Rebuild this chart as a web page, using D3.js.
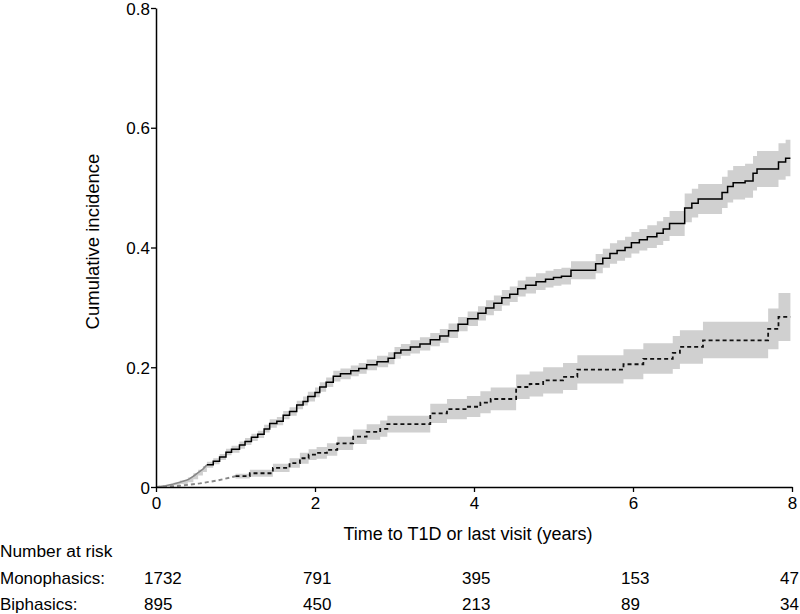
<!DOCTYPE html>
<html><head><meta charset="utf-8">
<script src="https://cdn.jsdelivr.net/npm/d3@7"></script>
<style>
html,body{margin:0;padding:0;background:#fff;}
svg text{font-family:"Liberation Sans",Arial,sans-serif;fill:#000;}
</style></head>
<body><svg id="c" width="800" height="614"></svg>
<script>
// Monophasics (solid)
const monoT  = [0.00,0.12,0.22,0.30,0.40,0.47,0.53,0.59,0.64,0.72,0.80,0.88,0.95,1.05,1.12,1.20,1.28,1.36,1.43,1.52,1.60,1.68,1.77,1.85,1.91,2.00,2.06,2.14,2.23,2.32,2.45,2.55,2.65,2.78,2.92,3.00,3.08,3.20,3.32,3.45,3.57,3.68,3.80,3.92,4.05,4.15,4.25,4.35,4.45,4.55,4.65,4.78,4.90,5.00,5.10,5.22,5.53,5.62,5.71,5.80,5.90,5.98,6.08,6.18,6.30,6.38,6.46,6.65,6.74,6.82,7.12,7.19,7.26,7.41,7.51,7.56,7.83,7.92,7.98];
const monoV  = [0.000,0.002,0.005,0.008,0.012,0.018,0.024,0.030,0.037,0.043,0.050,0.058,0.063,0.070,0.076,0.083,0.088,0.097,0.106,0.110,0.120,0.126,0.137,0.143,0.151,0.158,0.167,0.175,0.185,0.189,0.194,0.198,0.204,0.209,0.215,0.224,0.229,0.234,0.239,0.246,0.252,0.261,0.272,0.281,0.290,0.299,0.307,0.316,0.322,0.331,0.337,0.343,0.347,0.350,0.352,0.362,0.373,0.382,0.390,0.395,0.400,0.408,0.413,0.418,0.424,0.431,0.440,0.466,0.474,0.481,0.492,0.502,0.508,0.511,0.524,0.531,0.543,0.549,0.549];
const monoLo = [0.000,0.001,0.003,0.005,0.008,0.013,0.019,0.025,0.032,0.038,0.045,0.053,0.057,0.064,0.070,0.077,0.082,0.091,0.099,0.103,0.113,0.119,0.130,0.136,0.143,0.150,0.159,0.167,0.176,0.180,0.185,0.189,0.195,0.200,0.205,0.214,0.219,0.223,0.228,0.235,0.241,0.249,0.260,0.269,0.278,0.287,0.294,0.303,0.309,0.318,0.323,0.329,0.333,0.336,0.338,0.347,0.357,0.366,0.373,0.378,0.383,0.390,0.395,0.399,0.404,0.411,0.419,0.442,0.450,0.456,0.466,0.475,0.480,0.483,0.495,0.501,0.513,0.519,0.519];
const monoHi = [0.000,0.003,0.007,0.011,0.016,0.023,0.029,0.035,0.042,0.048,0.055,0.064,0.069,0.076,0.082,0.089,0.094,0.104,0.113,0.117,0.127,0.133,0.144,0.151,0.159,0.166,0.175,0.183,0.194,0.198,0.203,0.207,0.213,0.219,0.225,0.234,0.239,0.245,0.250,0.257,0.264,0.273,0.284,0.293,0.302,0.312,0.320,0.329,0.335,0.345,0.351,0.357,0.361,0.364,0.366,0.377,0.389,0.398,0.407,0.412,0.418,0.426,0.431,0.437,0.444,0.451,0.461,0.490,0.498,0.506,0.518,0.529,0.536,0.540,0.553,0.561,0.574,0.580,0.580];
const monoGrayUntil = 0.64;

// Biphasics (dashed)
const biT  = [0.00,0.30,0.55,0.78,1.00,1.18,1.47,1.68,1.81,1.92,2.02,2.15,2.28,2.48,2.65,2.82,2.91,3.45,3.66,3.91,4.08,4.21,4.53,4.70,4.87,5.12,5.30,5.88,6.13,6.50,6.59,6.88,7.70,7.83,7.98];
const biV  = [0.000,0.002,0.006,0.011,0.018,0.023,0.032,0.040,0.048,0.054,0.057,0.062,0.073,0.084,0.092,0.097,0.105,0.123,0.130,0.134,0.141,0.147,0.167,0.172,0.178,0.184,0.196,0.205,0.214,0.224,0.234,0.245,0.264,0.284,0.284];
const biLo = [null,null,null,null,0.014,0.017,0.025,0.032,0.039,0.045,0.047,0.052,0.062,0.072,0.079,0.084,0.091,0.107,0.113,0.117,0.123,0.128,0.147,0.151,0.156,0.162,0.173,0.180,0.189,0.197,0.206,0.215,0.230,0.244,0.244];
const biHi = [null,null,null,null,0.022,0.029,0.039,0.048,0.057,0.063,0.067,0.073,0.084,0.096,0.105,0.111,0.119,0.139,0.147,0.152,0.160,0.166,0.188,0.193,0.200,0.207,0.220,0.230,0.240,0.252,0.262,0.276,0.298,0.324,0.324];
const biGrayUntil = 1.0;

const xTicks = [0,2,4,6,8];
const yTicks = [0,0.2,0.4,0.6,0.8];
const riskTimes = [0,2,4,6,8];
const riskRows = ["Monophasics:","Biphasics:"];
const riskMono = [1732,791,395,153,47];
const riskBi = [895,450,213,89,34];

const svg = d3.select("#c");
const x = d3.scaleLinear().domain([0,8]).range([156,792]);
const y = d3.scaleLinear().domain([0,0.8]).range([487,8]);
const FS = 17;

function build(T,V,L,H){return T.map((t,i)=>({t:t,v:V[i],lo:L[i],hi:H[i]}));}
const mono = build(monoT,monoV,monoLo,monoHi);
const bi = build(biT,biV,biLo,biHi);

const area = d3.area().defined(d=>d.lo!=null).curve(d3.curveStepAfter)
  .x(d=>x(d.t)).y0(d=>y(d.lo)).y1(d=>y(d.hi));
const line = d3.line().curve(d3.curveStepAfter).x(d=>x(d.t)).y(d=>y(d.v));
const lineLin = d3.line().x(d=>x(d.t)).y(d=>y(d.v));

svg.append("path").attr("d",area(mono)).attr("fill","#d0d0d0");
svg.append("path").attr("d",area(bi.filter(d=>d.lo!=null))).attr("fill","#d0d0d0");

// early gray segments
svg.append("path").attr("d",lineLin(mono.filter(d=>d.t<=monoGrayUntil)))
  .attr("fill","none").attr("stroke","#888").attr("stroke-width",1.6);
svg.append("path").attr("d",lineLin(bi.filter(d=>d.t<=biGrayUntil)))
  .attr("fill","none").attr("stroke","#888").attr("stroke-width",1.9).attr("stroke-dasharray","4,3");

svg.append("path").attr("d",line(mono.filter(d=>d.t>=monoGrayUntil)))
  .attr("fill","none").attr("stroke","#000").attr("stroke-width",1.5);
svg.append("path").attr("d",line(bi.filter(d=>d.t>=biGrayUntil)))
  .attr("fill","none").attr("stroke","#111").attr("stroke-width",1.8).attr("stroke-dasharray","4,3");

// axes
const xAxis = d3.axisBottom(x).tickValues(xTicks).tickSize(5).tickSizeOuter(0).tickFormat(d3.format("d"));
const yAxis = d3.axisLeft(y).tickValues(yTicks).tickSize(5).tickSizeOuter(0).tickFormat(d=>d===0?"0":d3.format(".1f")(d));
const gx = svg.append("g").attr("transform","translate(0,487)").call(xAxis);
const gy = svg.append("g").attr("transform","translate(156,0)").call(yAxis);
[gx,gy].forEach(g=>{
  g.select(".domain").attr("stroke","#000").attr("stroke-width",1.5);
  g.selectAll(".tick line").attr("stroke","#000").attr("stroke-width",1.3);
  g.selectAll(".tick text").attr("font-size",FS).attr("font-family","Liberation Sans, Arial, sans-serif").attr("fill","#000");
});
gx.selectAll(".tick text").attr("dy",null).attr("y",22);
gy.selectAll(".tick text").attr("x",-6).attr("dy","0.36em");

svg.append("text").attr("x",(x(0)+x(8))/2-6).attr("y",540).attr("text-anchor","middle")
  .attr("font-size",18).text("Time to T1D or last visit (years)");
svg.append("text").attr("transform","translate(99,"+y(0.41)+") rotate(-90)").attr("text-anchor","middle")
  .attr("font-size",18.5).text("Cumulative incidence");

// risk table
svg.append("text").attr("x",0).attr("y",557).attr("font-size",FS+0.3).text("Number at risk");
const rowY = [584,610];
const rows = [riskMono,riskBi];
riskRows.forEach((lab,r)=>{
  svg.append("text").attr("x",0).attr("y",rowY[r]).attr("font-size",FS).text(lab);
  rows[r].forEach((n,i)=>{
    svg.append("text").attr("x",x(riskTimes[i])-12).attr("y",rowY[r]).attr("font-size",FS).text(n);
  });
});
</script></body></html>
